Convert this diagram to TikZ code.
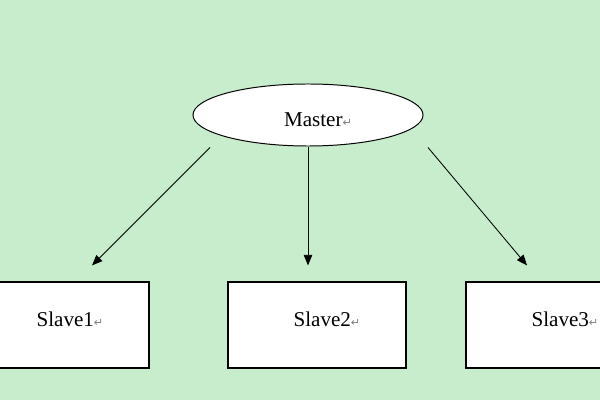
\documentclass[tikz,border=0pt]{standalone}
\usepackage{fontspec}
\setmainfont{Liberation Serif}
\newfontfamily\symfont{DejaVu Sans}
\usepackage{tikz}
\usetikzlibrary{arrows.meta,calc,positioning,shapes.geometric}
\definecolor{bggreen}{RGB}{199,237,204}
\newcommand{\parmark}{{\symfont\fontsize{8}{8}\selectfont\textcolor{black!50}{↵}}}

\begin{document}
\begin{tikzpicture}[x=0.025cm, y=-0.025cm, font=\fontsize{15}{18}\selectfont, >={Triangle[length=7.5pt,width=6pt]}, line join=miter]
  \tikzset{
    master/.style={draw=black, fill=white, ellipse, line width=.7pt, minimum width=5.75cm, minimum height=1.55cm, inner sep=0pt},
    slave/.style={draw=black, fill=white, rectangle, line width=.8pt, minimum width=4.45cm, minimum height=2.15cm, inner sep=0pt},
    lbl/.style={inner sep=0pt, text=black},
    link/.style={->, black, line width=.6pt}
  }
  % Page background.
  \fill[bggreen] (0,0) rectangle (600,400);
  \clip (0,0) rectangle (600,400);

  % Master node.
  \node[master] (master) at (308,115) {};
  \node[lbl] (mastertxt) at ($(master.center)+(10,5)$) {Master\parmark};

  % Slave nodes.
  \foreach \i/\x in {1/60,2/317,3/555}{
    \node[slave] (slave\i) at (\x,325) {};
    \node[lbl] (slavetxt\i) at ($(slave\i.center)+(10,-6)$) {Slave\i\parmark};
  }

  % Links from master to slaves.
  \foreach \i/\dx/\ex in {1/-98/32,2/0/-9,3/120/-28}{
    \coordinate (from\i) at ($(master.south)+(\dx,1)$);
    \coordinate (to\i) at ($(slave\i.north)+(\ex,-16)$);
    \draw[link] (from\i) -- (to\i);
  }
\end{tikzpicture}
\end{document}
